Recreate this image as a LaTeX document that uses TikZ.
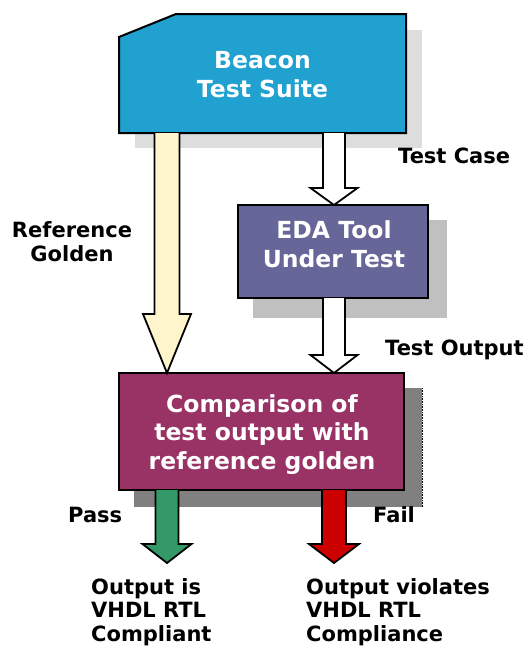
\documentclass[tikz,border=0pt]{standalone}
\usepackage{fontspec}
\setmainfont{DejaVu Sans}
\usetikzlibrary{calc}
\pgfdeclarelayer{bg}
\pgfsetlayers{bg,main}
\definecolor{beaconblue}{HTML}{21A1D0}
\definecolor{edablue}{HTML}{666699}
\definecolor{compred}{HTML}{993366}
\definecolor{cream}{HTML}{FFF5CC}
\definecolor{passgreen}{HTML}{339966}
\definecolor{failred}{HTML}{CC0000}
\definecolor{shadowA}{HTML}{DDDDDD}
\definecolor{shadowB}{HTML}{C0C0C0}
\definecolor{shadowC}{HTML}{808080}
\newcommand{\blockarrow}[6]{%
  \draw[arrowline,#1] ($(#2)+(-#4,0)$) -- ($(#3)+(-#4,-#6)$) -- ($(#3)+(-#5,-#6)$) -- (#3)
    -- ($(#3)+(#5,-#6)$) -- ($(#3)+(#4,-#6)$) -- ($(#2)+(#4,0)$);
}
\tikzset{
  boxgeom/.style={draw=none, fill=none, inner sep=0pt, outer sep=0pt},
  boxline/.style={draw=black, line width=2pt, line join=miter},
  boxtext/.style={text=white, align=center, inner sep=0pt,
    font=\bfseries\fontsize{23.5}{28.5}\selectfont},
  label/.style={text=black, inner sep=0pt,
    font=\bfseries\fontsize{21}{23.5}\selectfont},
  arrowline/.style={draw=black, line width=1.8pt, line join=miter},
}
\begin{document}
\begin{tikzpicture}[x=1pt, y=-1pt]
\useasboundingbox (0,0) rectangle (527,648);

% box geometry
\node[boxgeom, minimum width=287pt, minimum height=119pt] (beacon) at (262.5,73.5) {};
\node[boxgeom, minimum width=190pt, minimum height=93pt] (eda) at (333,251.5) {};
\node[boxgeom, minimum width=285pt, minimum height=117pt] (comp) at (261.5,431.5) {};

% shadows
\begin{pgfonlayer}{bg}
  \fill[shadowA] ([shift={(16pt,-16pt)}]beacon.north west) rectangle ([shift={(16pt,-15pt)}]beacon.south east);
  \fill[shadowB] ([shift={(15pt,-15pt)}]eda.north west) rectangle ([shift={(19pt,-20pt)}]eda.south east);
  \fill[shadowC] ([shift={(15pt,-15pt)}]comp.north west) rectangle ([shift={(18pt,-17pt)}]comp.south east);
  \draw[black, line width=0.6pt, densely dotted] ([shift={(18pt,-15pt)}]comp.north east) -- ([shift={(18pt,-17pt)}]comp.south east);
\end{pgfonlayer}

% boxes
\draw[boxline, fill=beaconblue] (beacon.south west) -- (beacon.south east) -- (beacon.north east)
  -- ([xshift=57pt]beacon.north west) -- ([yshift=-23pt]beacon.north west) -- cycle;
\draw[boxline, fill=edablue] (eda.south west) rectangle (eda.north east);
\draw[boxline, fill=compred] (comp.south west) rectangle (comp.north east);

% box texts (base = baseline of last line)
\node[boxtext, anchor=base] (beacontext) at (262.5,97) {Beacon\\Test Suite};
\node[boxtext, anchor=base] (edatext) at (334,267) {EDA Tool\\Under Test};
\node[boxtext, anchor=base] (comptext) at (262,469) {Comparison of\\test output with\\reference golden};

% connector coordinates
\coordinate (ys) at ([xshift=-95.5pt]beacon.south);
\coordinate (yt) at (ys |- comp.north);
\coordinate (ws) at ([xshift=71.5pt]beacon.south);
\coordinate (wt) at (ws |- eda.north);
\coordinate (w2s) at (ws |- eda.south);
\coordinate (w2t) at (ws |- comp.north);
\coordinate (ps) at (ys |- comp.south);
\coordinate (passtip) at ([yshift=-73pt]ps);
\coordinate (fs) at (ws |- comp.south);
\coordinate (failtip) at ([yshift=-73pt]fs);

% block arrows
\blockarrow{fill=cream}{ys}{yt}{12.5}{24}{59}
\blockarrow{fill=white}{ws}{wt}{11}{23.5}{17}
\blockarrow{fill=white}{w2s}{w2t}{11}{23.5}{18}
\blockarrow{fill=passgreen}{ps}{passtip}{11.5}{24.5}{19}
\blockarrow{fill=failred}{fs}{failtip}{12}{25}{19}

% labels
\node[label, anchor=base west] (lcase) at (398,163) {Test Case};
\node[label, anchor=base, align=center] (lref) at (72,261) {Reference\\Golden};
\node[label, anchor=base west] (lout) at (385,355) {Test Output};
\node[label, anchor=base west] (lpass) at (68,522) {Pass};
\node[label, anchor=base west] (lfail) at (373,522) {Fail};
\node[label, anchor=base west, align=left] (lok) at (91,641) {Output is\\VHDL RTL\\Compliant};
\node[label, anchor=base west, align=left] (lbad) at (306,641) {Output violates\\VHDL RTL\\Compliance};
\end{tikzpicture}
\end{document}
